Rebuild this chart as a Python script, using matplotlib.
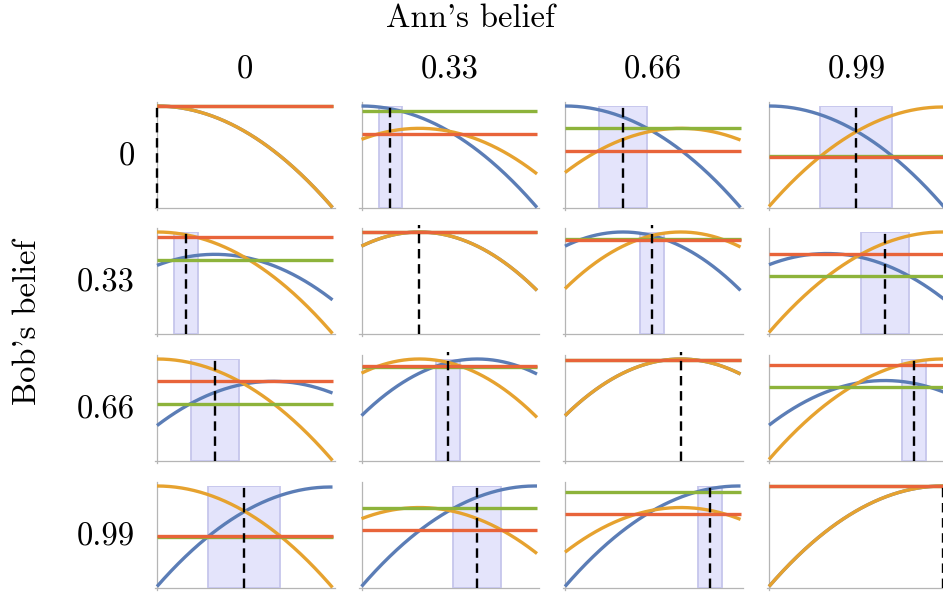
import matplotlib
matplotlib.use("Agg")
import matplotlib.pyplot as plt
import numpy as np

plt.rcParams['font.family'] = 'serif'
plt.rcParams['font.serif'] = ['cmr10', 'DejaVu Serif']
plt.rcParams['axes.formatter.use_mathtext'] = True

# beliefs of Ann (columns) and Bob (rows)
beliefs = [0, 0.33, 0.66, 0.99]
belief_labels = ['0', '0.33', '0.66', '0.99']
# height of each belief's utility curve at its peak (peak sits at the belief)
peak = [1.00, 0.78, 0.78, 0.99]

# rows = Bob's belief, cols = Ann's belief
ann_floor = [[1.00, 0.724, 0.558, 0.500],
             [0.946, 0.779, 0.721, 0.772],
             [0.782, 0.724, 0.776, 0.936],
             [0.510, 0.561, 0.721, 0.990]]
bob_floor = [[1.00, 0.946, 0.782, 0.510],
             [0.724, 0.779, 0.724, 0.561],
             [0.558, 0.721, 0.776, 0.721],
             [0.500, 0.772, 0.936, 0.990]]
band_lo = [[0, 0.097, 0.193, 0.290],
           [0.097, 0, 0.427, 0.523],
           [0.193, 0.427, 0, 0.757],
           [0.290, 0.523, 0.757, 0]]
band_hi = [[0, 0.233, 0.467, 0.700],
           [0.233, 0, 0.563, 0.797],
           [0.467, 0.563, 0, 0.893],
           [0.700, 0.797, 0.893, 0]]
deal = [[0, 0.165, 0.330, 0.495],
        [0.165, 0.33, 0.495, 0.660],
        [0.330, 0.495, 0.66, 0.825],
        [0.495, 0.660, 0.825, 0.99]]

blue = '#5b7db6'
orange = '#e6a22f'
green = '#8db33b'
red = '#e8643a'

W, H = 943, 592
fig = plt.figure(figsize=(W/100, H/100), dpi=100)

col_left = [157, 361.5, 565, 769]
row_top = [106, 232, 359, 486]
ax_w, ax_h = 175.5, 101.5

x = np.linspace(0, 1, 200)

for r in range(4):
    for c in range(4):
        ax = fig.add_axes([col_left[c]/W, 1-(row_top[r]+ax_h)/H, ax_w/W, ax_h/H])
        a, b = beliefs[c], beliefs[r]
        top = max(peak[c], peak[r])
        ax.set_xlim(0, 1)
        ax.set_ylim(0, top)
        ax.axis('off')
        # axis lines
        ax.plot([0, 0], [-0.02, 1.04], transform=ax.transAxes, color='#b5b5b5', lw=0.9, clip_on=False, zorder=0)
        ax.plot([-0.012, 1.012], [0, 0], transform=ax.transAxes, color='#b5b5b5', lw=0.9, clip_on=False, zorder=0)
        if band_hi[r][c] > band_lo[r][c]:
            ax.axvspan(band_lo[r][c], band_hi[r][c], facecolor='#e4e4fb', edgecolor='#c6c6ec', lw=1.3, zorder=1)
        ax.plot(x, peak[r] - (x - b)**2, color=blue, lw=2.4, zorder=2, clip_on=False, solid_capstyle='butt')
        ax.plot(x, peak[c] - (x - a)**2, color=orange, lw=2.4, zorder=3, clip_on=False, solid_capstyle='butt')
        ax.plot([0, 1], [bob_floor[r][c]]*2, color=green, lw=2.4, zorder=4, clip_on=False, solid_capstyle='butt')
        ax.plot([0, 1], [ann_floor[r][c]]*2, color=red, lw=2.4, zorder=5, clip_on=False, solid_capstyle='butt')
        ax.plot([deal[r][c]]*2, [0, max(top, 0.83)], color='black', lw=1.7,
                linestyle=(0, (4, 2.4)), zorder=6, clip_on=False)

fs = 23.5
fig.text(471/W, 1-18/H, "Ann's belief", ha='center', va='center', fontsize=fs)
fig.text(27/W, 1-322/H, "Bob's belief", ha='center', va='center', fontsize=fs, rotation=90)
for c in range(4):
    fig.text((col_left[c]+ax_w/2)/W, 1-70/H, belief_labels[c], ha='center', va='center', fontsize=fs)
for r in range(4):
    fig.text(135/W, 1-(row_top[r]+ax_h/2)/H, belief_labels[r], ha='right', va='center', fontsize=fs)

fig.savefig('out.png', dpi=100)
